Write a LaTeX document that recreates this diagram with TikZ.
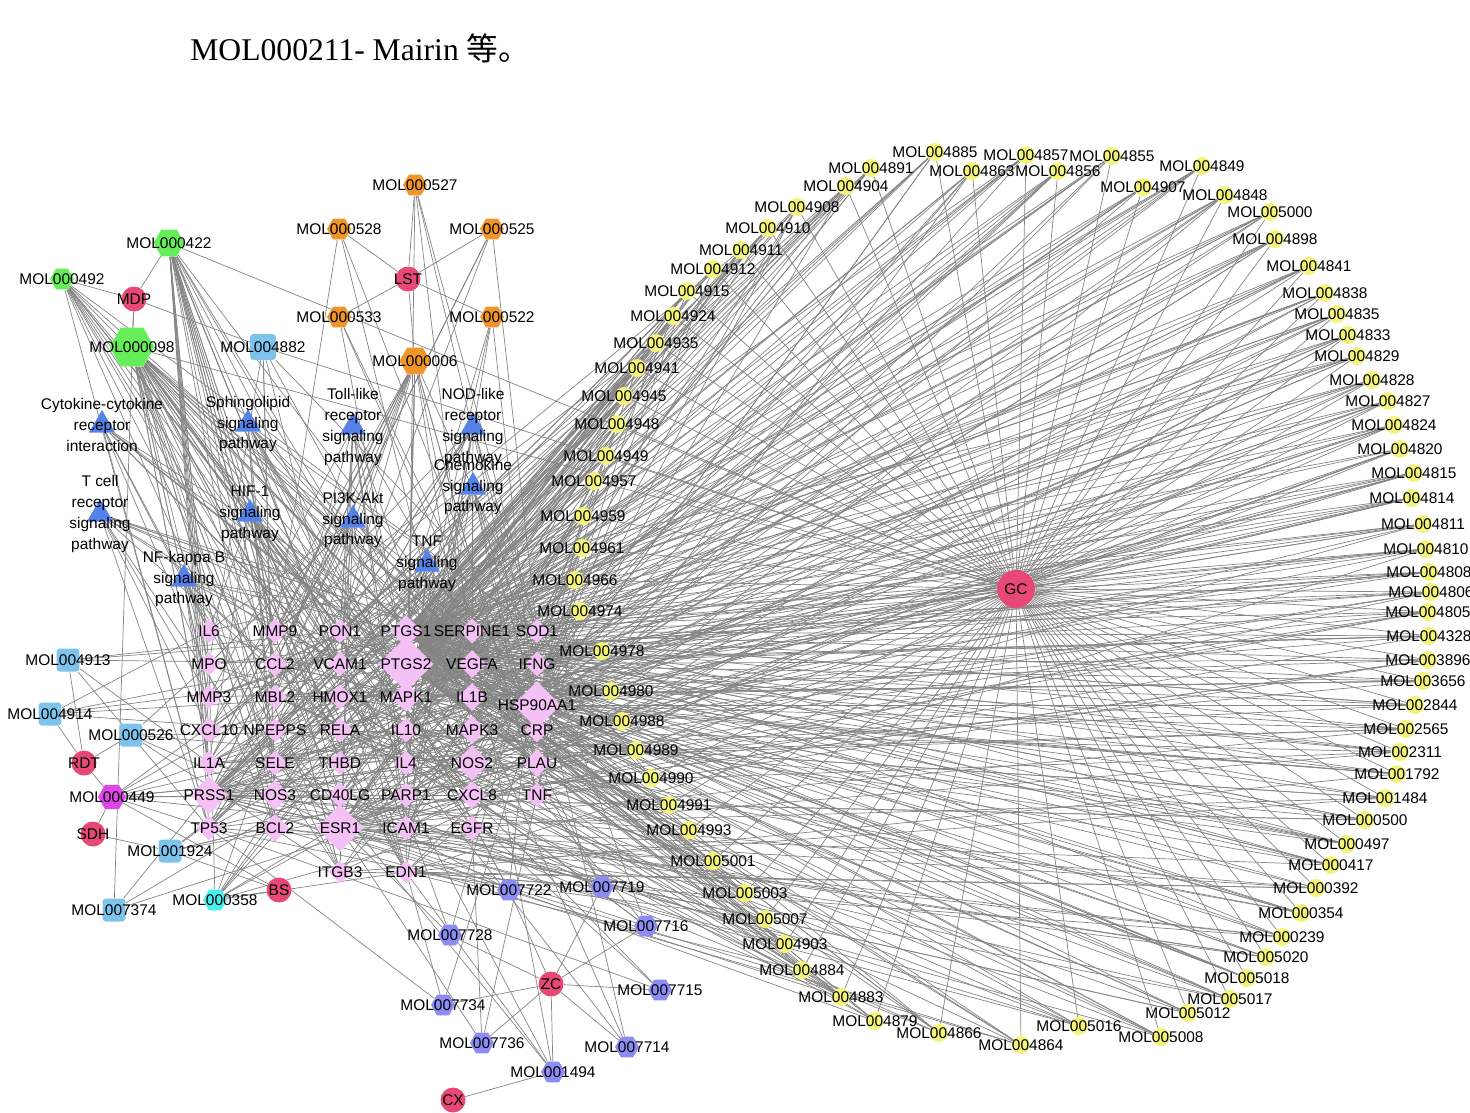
\documentclass[tikz,border=0pt]{standalone}
\usepackage{fontspec}
\setmainfont{Liberation Serif}
\newfontfamily\arial{Liberation Sans}
\newfontfamily\cjk{Noto Sans CJK SC}
\usepackage{tikz}
\usetikzlibrary{shapes.geometric}
\usetikzlibrary{backgrounds}
\definecolor{molyellow}{RGB}{244,244,122}
\definecolor{herbpink}{RGB}{232,72,118}
\definecolor{molgreen}{RGB}{102,238,88}
\definecolor{molorange}{RGB}{240,150,40}
\definecolor{molblue}{RGB}{125,195,235}
\definecolor{molmagenta}{RGB}{222,70,232}
\definecolor{molcyan}{RGB}{70,240,240}
\definecolor{molpurple}{RGB}{140,140,242}
\definecolor{genepink}{RGB}{245,192,245}
\definecolor{pathblue}{RGB}{85,130,232}
\definecolor{linkgray}{RGB}{132,132,132}
\newcommand\lblfont{\arial\fontsize{8.8}{11.9}\selectfont}
\tikzset{every edge/.style={draw=linkgray, line width=0.4pt}}
\tikzset{every label/.style={font=\lblfont, inner sep=0pt}}
\tikzset{
  herb/.style={circle, fill=herbpink, minimum size=0.5cm, inner sep=0pt},
  gcmol/.style={circle, fill=molyellow, minimum size=0.36cm, inner sep=0pt},
  hexmol/.style={regular polygon, regular polygon sides=6, minimum size=0.48cm, inner sep=0pt},
  sqmol/.style={rectangle, rounded corners=2pt, fill=molblue, minimum size=0.46cm, inner sep=0pt},
  target/.style={diamond, fill=genepink, inner sep=0pt},
  pathway/.style={regular polygon, regular polygon sides=3, fill=pathblue, minimum size=0.6cm, inner sep=0pt},
}
\def\gclist{004885/935/152, 004891/871/168, 004904/846/186, 004908/797/207,
  004910/768/228, 004911/741/250, 004912/713/269, 004915/687/291,
  004924/673/316, 004935/656/343, 004941/637/368, 004945/624/396,
  004948/617/424, 004949/606/456, 004957/594/481, 004959/583/516,
  004961/582/548, 004966/575/580, 004974/580/611, 004978/602/651,
  004980/611/691, 004988/622/721, 004989/636/750, 004990/651/778,
  004991/669/805, 004993/689/830, 005001/713/861, 005003/745/893,
  005007/765/919, 004903/785/944, 004884/802/970, 004883/841/997,
  004879/875/1021, 004866/939/1033, 004864/1021/1045, 005016/1079/1026,
  005008/1161/1037, 005012/1188/1013, 005017/1230/999, 005018/1247/978,
  005020/1266/957, 000239/1282/937, 000354/1301/913, 000392/1316/888,
  000417/1331/865, 000497/1347/844, 000500/1365/820, 001484/1385/798,
  001792/1397/774, 002311/1400/752, 002565/1406/729, 002844/1415/705,
  003656/1423/681, 003896/1428/660, 004328/1429/636, 004805/1428/612,
  004806/1431/592, 004808/1429/572, 004810/1426/549, 004811/1423/524,
  004814/1412/498, 004815/1414/473, 004820/1400/449, 004824/1394/425,
  004827/1388/401, 004828/1372/380, 004829/1357/356, 004833/1348/335,
  004835/1337/314, 004838/1325/293, 004841/1309/266, 004898/1275/239,
  005000/1270/212, 004848/1225/195, 004849/1202/166, 004907/1143/187,
  004855/1112/156, 004856/1058/171, 004857/1026/155, 004863/972/171}

\begin{document}
\begin{tikzpicture}[x=0.02cm, y=-0.02cm]
  \useasboundingbox (0,0) rectangle (1470,1112);

  \node[anchor=base west, inner sep=0pt, font=\fontsize{18}{22}\selectfont] (note) at (190,60) {MOL000211- Mairin {\cjk 等。}};

  % herbs
  \node[herb, minimum size=0.76cm, label=center:GC] (GC) at (1016,589) {};
  \node[herb, label=center:LST] (LST) at (408,279) {};
  \node[herb, label=center:MDP] (MDP) at (134,299) {};
  \node[herb, label=center:RDT] (RDT) at (84,763) {};
  \node[herb, label=center:SDH] (SDH) at (93,834) {};
  \node[herb, label=center:BS]  (BS)  at (279,890) {};
  \node[herb, label=center:ZC]  (ZC)  at (551,984) {};
  \node[herb, label=center:CX]  (CX)  at (453,1100) {};

  % compounds
  \node[hexmol, fill=molgreen, minimum size=0.9cm, label=center:MOL000098] (MOL000098) at (132,347) {};
  \node[hexmol, fill=molgreen, minimum size=0.62cm, label=center:MOL000422] (MOL000422) at (169,243) {};
  \node[hexmol, fill=molgreen, label=center:MOL000492] (MOL000492) at (62,279) {};
  \node[hexmol, fill=molorange, label=center:MOL000527] (MOL000527) at (415,185) {};
  \node[hexmol, fill=molorange, label=center:MOL000528] (MOL000528) at (339,229) {};
  \node[hexmol, fill=molorange, label=center:MOL000525] (MOL000525) at (492,229) {};
  \node[hexmol, fill=molorange, label=center:MOL000533] (MOL000533) at (339,317) {};
  \node[hexmol, fill=molorange, label=center:MOL000522] (MOL000522) at (492,317) {};
  \node[hexmol, fill=molorange, minimum size=0.62cm, label=center:MOL000006] (MOL000006) at (415,361) {};
  \node[sqmol, minimum size=0.52cm, label=center:MOL004882] (MOL004882) at (263,347) {};
  \node[sqmol, label=center:MOL004913] (MOL004913) at (68,660) {};
  \node[sqmol, label=center:MOL004914] (MOL004914) at (50,714) {};
  \node[sqmol, label=center:MOL000526] (MOL000526) at (131,735) {};
  \node[sqmol, label=center:MOL001924] (MOL001924) at (170,851) {};
  \node[sqmol, label=center:MOL007374] (MOL007374) at (114,910) {};
  \node[hexmol, fill=molmagenta, minimum size=0.56cm, label=center:MOL000449] (MOL000449) at (112,797) {};
  \node[hexmol, fill=molcyan, label=center:MOL000358] (MOL000358) at (215,900) {};
  \foreach \id/\x/\y in {007722/509/890, 007719/602/887, 007728/450/935,
      007716/646/926, 007715/660/990, 007734/443/1005, 007736/482/1043,
      007714/627/1047, 001494/553/1072}
    \node[hexmol, fill=molpurple, label=center:MOL\id] (MOL\id) at (\x,\y) {};
  \foreach \id/\x/\y in \gclist
    \node[gcmol, label=center:MOL\id] (MOL\id) at (\x,\y) {};

  % pathways
  \node[pathway, label={[align=center]center:{Cytokine-cytokine\\receptor\\interaction}}] (cytopath) at (102,425) {};
  \node[pathway, label={[align=center]center:{Sphingolipid\\signaling\\pathway}}] (sphingopath) at (248,424) {};
  \node[pathway, label={[align=center]center:{Toll-like\\receptor\\signaling\\pathway}}] (tollpath) at (353,427) {};
  \node[pathway, label={[align=center]center:{NOD-like\\receptor\\signaling\\pathway}}] (nodpath) at (473,427) {};
  \node[pathway, label={[align=center]center:{Chemokine\\signaling\\pathway}}] (chemopath) at (473,487) {};
  \node[pathway, label={[align=center]center:{T cell\\receptor\\signaling\\pathway}}] (tcellpath) at (100,514) {};
  \node[pathway, label={[align=center]center:{HIF-1\\signaling\\pathway}}] (hifpath) at (250,514) {};
  \node[pathway, label={[align=center]center:{PI3K-Akt\\signaling\\pathway}}] (pipath) at (353,520) {};
  \node[pathway, label={[align=center]center:{TNF\\signaling\\pathway}}] (tnfpath) at (427,564) {};
  \node[pathway, label={[align=center]center:{NF-kappa B\\signaling\\pathway}}] (nfkbpath) at (184,579) {};

  % targets
  \foreach \g/\x/\y/\s [count=\i from 0] in {
      IL6/209/631/0.48, MMP9/275/631/0.5, PON1/340/631/0.48, PTGS1/406/631/0.64, SERPINE1/472/631/0.5, SOD1/537/631/0.48,
      MPO/209/664/0.48, CCL2/275/664/0.5, VCAM1/340/664/0.5, PTGS2/406/664/1.1, VEGFA/472/664/0.56, IFNG/537/664/0.5,
      MMP3/209/697/0.48, MBL2/275/697/0.48, HMOX1/340/697/0.5, MAPK1/406/697/0.6, IL1B/472/697/0.56, HSP90AA1/537/705/0.95,
      CXCL10/209/730/0.5, NPEPPS/275/730/0.48, RELA/340/730/0.5, IL10/406/730/0.5, MAPK3/472/730/0.56, CRP/537/730/0.5,
      IL1A/209/763/0.48, SELE/275/763/0.5, THBD/340/763/0.48, IL4/406/763/0.5, NOS2/472/763/0.7, PLAU/537/763/0.56,
      PRSS1/209/795/0.76, NOS3/275/795/0.6, CD40LG/340/795/0.5, PARP1/406/795/0.5, CXCL8/472/795/0.56, TNF/537/795/0.5,
      TP53/209/828/0.5, BCL2/275/828/0.56, ESR1/340/828/0.95, ICAM1/406/828/0.5, EGFR/472/828/0.5,
      ITGB3/340/872/0.46, EDN1/406/872/0.46}
    \node[target, minimum size=\s cm, label=center:\g, alias=g\i] (\g) at (\x,\y) {};

  \begin{scope}[on background layer]
    \pgfmathsetseed{2718}
    % herbs to compounds
    \foreach \m in {MOL000527,MOL000528,MOL000525,MOL000533,MOL000522,MOL000006}
      \path (LST) edge (\m);
    \foreach \m in {MOL000422,MOL000492,MOL000098,MOL004882,MOL007374}
      \path (MDP) edge (\m);
    \foreach \m in {MOL004913,MOL004914,MOL000526,MOL000449}
      \path (RDT) edge (\m);
    \foreach \m in {MOL000449,MOL001924}
      \path (SDH) edge (\m);
    \foreach \m in {MOL000358,MOL001924,MOL000449}
      \path (BS) edge (\m);
    \foreach \m in {MOL007722,MOL007719,MOL007728,MOL007716,MOL007715,MOL007734,MOL007736,MOL007714,MOL001494}
      \path (ZC) edge (\m);
    \path (CX) edge (MOL001494);
    \foreach \m in {MOL000098,MOL000422,MOL004882,MOL004913,MOL004914}
      \path (GC) edge (\m);
    \foreach \id/\x/\y [count=\c] in \gclist {
      \path (GC) edge (MOL\id);
      \pgfmathrandominteger{\ka}{0}{42}
      \pgfmathrandominteger{\kb}{0}{42}
      \pgfmathrandominteger{\kc}{0}{42}
      \pgfmathtruncatemacro\r{mod(\c,3)}
      \path (MOL\id) edge (PTGS2) (MOL\id) edge (PTGS1)
            (MOL\id) edge (g\ka) (MOL\id) edge (g\kb) (MOL\id) edge (g\kc);
      \ifcase\r \path (MOL\id) edge (ESR1); \or \path (MOL\id) edge (HSP90AA1); \else \path (MOL\id) edge (PRSS1); \fi
    }
    % compounds to targets
    \foreach \m/\n in {MOL000098/36, MOL000422/28, MOL000492/14, MOL000006/18,
        MOL000527/4, MOL000528/3, MOL000525/4, MOL000533/3, MOL000522/4,
        MOL004882/6, MOL004913/4, MOL004914/4, MOL000526/5, MOL001924/5,
        MOL007374/3, MOL000449/10, MOL000358/10, MOL007722/5, MOL007719/5,
        MOL007728/3, MOL007716/5, MOL007715/3, MOL007734/3, MOL007736/3,
        MOL007714/3, MOL001494/4}
      \foreach \k in {1,...,\n} {
        \pgfmathrandominteger{\ka}{0}{42}
        \path (\m) edge (g\ka);
      }
    % pathways to targets
    \foreach \p in {cytopath,sphingopath,tollpath,nodpath,chemopath,tcellpath,hifpath,pipath,tnfpath,nfkbpath}
      \foreach \k in {1,...,12} {
        \pgfmathrandominteger{\ka}{0}{42}
        \path (\p) edge (g\ka);
      }
  \end{scope}
\end{tikzpicture}
\end{document}
